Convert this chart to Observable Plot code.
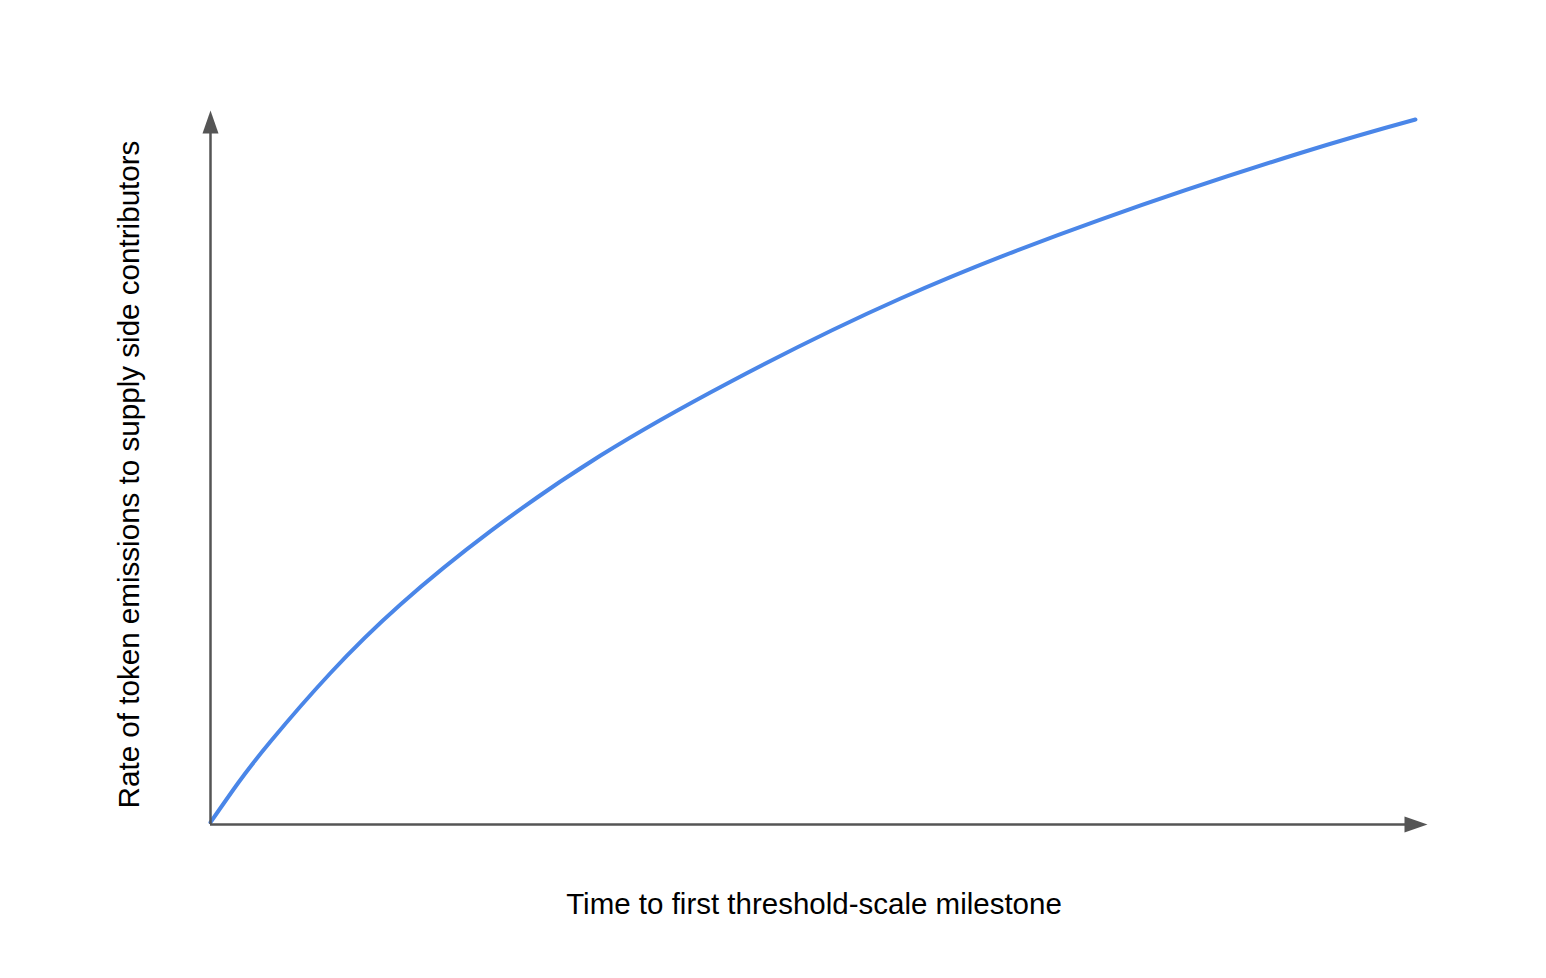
<!DOCTYPE html>
<html>
<head>
<meta charset="utf-8">
<script src="https://cdn.jsdelivr.net/npm/d3@7"></script>
<script src="https://cdn.jsdelivr.net/npm/@observablehq/plot@0.6"></script>
<style>
  html, body { margin: 0; padding: 0; background: #fff; }
  #chart svg { display: block; }
</style>
</head>
<body>
<div id="chart"></div>
<script>
// Curve (relative units, 0–100 on both axes; axis arrow tips sit at 100)
const timeValues = [0, 2.3, 4.93, 9.86, 15.61, 23.01, 32.05, 42.73, 56.7, 73.13, 89.56, 99.01];
const rateValues = [0.3, 5.88, 11.62, 21.22, 30.81, 41.08, 51.68, 62.02, 73.67, 84.73, 94.05, 98.74];

// Axis extents (axis line ends and arrow tips)
const xAxisTip = [100];
const yAxisTip = [100];
const xAxisLineEnd = [98.6];
const yAxisLineEnd = [97.9];

// Labels
const xLabel = ["Time to first threshold-scale milestone"];
const yLabel = ["Rate of token emissions to supply side contributors"];

const curve = timeValues.map((t, i) => ({t, r: rateValues[i]}));

const axisColor = "#555555";
const font = "'Liberation Sans', Arial, sans-serif";

// custom arrowhead symbol: tip at the origin, pointing up
const arrowHead = {
  draw(context) {
    context.moveTo(0, 0);
    context.lineTo(-8, 23);
    context.lineTo(8, 23);
    context.closePath();
  }
};

const chart = Plot.plot({
  width: 1546,
  height: 978,
  marginLeft: 210,
  marginRight: 119,
  marginTop: 110,
  marginBottom: 154,
  style: {background: "#fff", fontFamily: font},
  x: {domain: [0, 100], axis: null},
  y: {domain: [0, 100], axis: null},
  marks: [
    Plot.line(curve, {x: "t", y: "r", stroke: "#4a86e8", strokeWidth: 4, curve: "natural"}),
    Plot.ruleY([0], {x1: 0, x2: xAxisLineEnd[0], stroke: axisColor, strokeWidth: 2.5}),
    Plot.ruleX([0], {y1: 0, y2: yAxisLineEnd[0], stroke: axisColor, strokeWidth: 2.5}),
    Plot.dot(xAxisTip, {x: d => d, y: 0, symbol: arrowHead, fill: axisColor, stroke: "none", rotate: 90}),
    Plot.dot(yAxisTip, {x: 0, y: d => d, symbol: arrowHead, fill: axisColor, stroke: "none"}),
    Plot.text(xLabel, {text: d => d, frameAnchor: "bottom", dx: -5, dy: 79.6, fontSize: 29.5, fill: "#000", fontFamily: font, lineAnchor: "middle", textAnchor: "middle"}),
    Plot.text(yLabel, {text: d => d, frameAnchor: "left", dx: -81.4, dy: 7, rotate: -90, fontSize: 29.6, fill: "#000", fontFamily: font, lineAnchor: "middle", textAnchor: "middle"})
  ]
});

document.getElementById("chart").appendChild(chart);
</script>
</body>
</html>
